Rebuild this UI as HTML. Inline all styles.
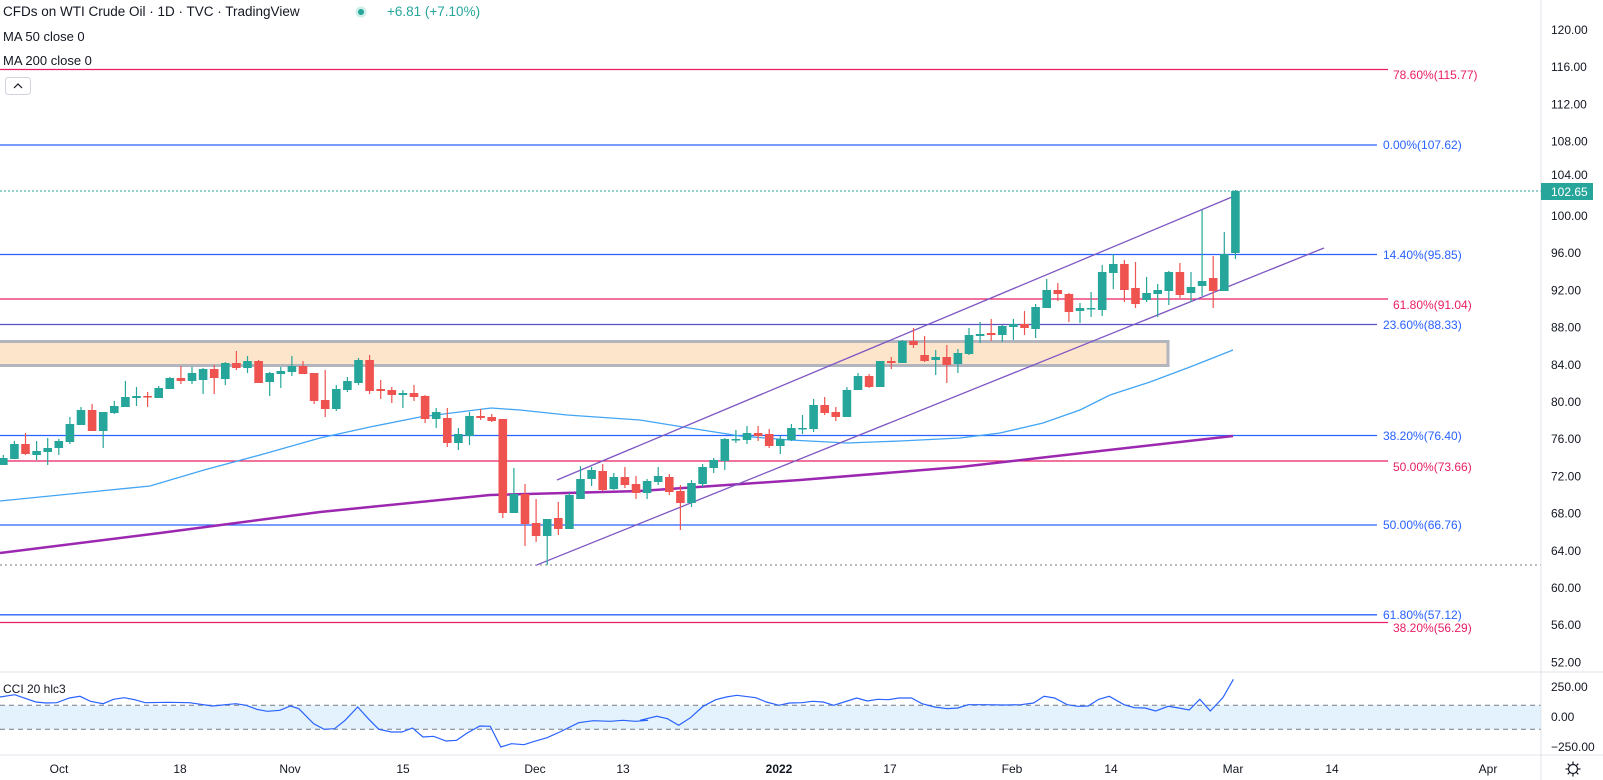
<!DOCTYPE html>
<html><head><meta charset="utf-8">
<style>
html,body{margin:0;padding:0;background:#fff;width:1603px;height:780px;overflow:hidden;font-family:"Liberation Sans",sans-serif}
svg{position:absolute;left:0;top:0}
</style></head><body>
<svg id="s" width="1603" height="780" viewBox="0 0 1603 780" xmlns="http://www.w3.org/2000/svg" font-family="Liberation Sans, sans-serif">
<rect width="1603" height="780" fill="#fff"/>
<!-- orange zone -->
<rect x="-5" y="341.5" width="1173" height="24" fill="#fde5cc" stroke="#b2b5be" stroke-width="3"/>
<!-- horizontal fib lines -->
<g stroke-width="1.3">
<line x1="0" y1="69.5" x2="1388" y2="69.5" stroke="#e91e63"/>
<line x1="0" y1="145" x2="1377" y2="145" stroke="#2962ff"/>
<line x1="0" y1="254.5" x2="1377" y2="254.5" stroke="#2962ff"/>
<line x1="0" y1="299" x2="1388" y2="299" stroke="#e91e63"/>
<line x1="0" y1="324.5" x2="1377" y2="324.5" stroke="#5b4fc7"/>
<line x1="0" y1="435.5" x2="1377" y2="435.5" stroke="#2962ff"/>
<line x1="0" y1="461" x2="1388" y2="461" stroke="#e91e63"/>
<line x1="0" y1="525" x2="1377" y2="525" stroke="#2962ff"/>
<line x1="0" y1="614.8" x2="1377" y2="614.8" stroke="#2962ff"/>
<line x1="0" y1="622.5" x2="1388" y2="622.5" stroke="#e91e63"/>
</g>
<line x1="0" y1="191" x2="1541" y2="191" stroke="#26a69a" stroke-dasharray="2,2"/>
<line x1="0" y1="565" x2="1541" y2="565" stroke="#787b86" stroke-dasharray="2,3"/>
<g font-size="12">
<text x="1393" y="79" fill="#e91e63">78.60%(115.77)</text>
<text x="1383" y="149" fill="#2962ff">0.00%(107.62)</text>
<text x="1383" y="259" fill="#2962ff">14.40%(95.85)</text>
<text x="1393" y="309" fill="#e91e63">61.80%(91.04)</text>
<text x="1383" y="329" fill="#2962ff">23.60%(88.33)</text>
<text x="1383" y="440" fill="#2962ff">38.20%(76.40)</text>
<text x="1393" y="471" fill="#e91e63">50.00%(73.66)</text>
<text x="1383" y="529" fill="#2962ff">50.00%(66.76)</text>
<text x="1383" y="619" fill="#2962ff">61.80%(57.12)</text>
<text x="1393" y="632" fill="#e91e63">38.20%(56.29)</text>
</g>
<!-- MAs -->
<polyline fill="none" stroke="#42a5f5" stroke-width="1.3" points="0,501 100,491 150,486 204,470 260,455 320,438 370,427 420,417 491,408 520,410 567,415 640,420 683,427 740,436 790,440 847,443 900,441 960,438 1000,433 1043,423 1080,410 1110,395 1150,382 1190,367 1233,350"/>
<polyline fill="none" stroke="#9c27b0" stroke-width="2.5" points="0,553 160,533 320,512 490,495 640,491 800,480 960,467 1100,451 1233,436"/>
<!-- channel -->
<line x1="557" y1="480" x2="1232" y2="197" stroke="#7e57c2" stroke-width="1.3"/>
<line x1="536" y1="565.3" x2="1324" y2="248" stroke="#7e57c2" stroke-width="1.3"/>
<g id="candles"></g>
<!-- CCI pane -->
<line x1="0" y1="672" x2="1603" y2="672" stroke="#e0e3eb"/>
<rect x="0" y="705.3" width="1541" height="24" fill="#e3f2fd"/>
<line x1="0" y1="705.3" x2="1541" y2="705.3" stroke="#787b86" stroke-dasharray="5,4"/>
<line x1="0" y1="729.3" x2="1541" y2="729.3" stroke="#787b86" stroke-dasharray="5,4"/>
<polyline id="cci" fill="none" stroke="#2962ff" stroke-width="1.2" points=""/>
<text x="3" y="693" font-size="12" fill="#131722">CCI 20 hlc3</text>
<!-- axes -->
<line x1="1541" y1="0" x2="1541" y2="780" stroke="#e0e3eb"/>
<line x1="0" y1="755" x2="1603" y2="755" stroke="#e0e3eb"/>
<g id="paxis" font-size="12" fill="#131722"></g>
<rect x="1541" y="183" width="52" height="17" fill="#26a69a"/>
<text x="1551" y="196" font-size="12" fill="#fff">102.65</text>
<g font-size="12" fill="#131722">
<text x="1551" y="691">250.00</text>
<text x="1551" y="721">0.00</text>
<text x="1551" y="751">−250.00</text>
</g>
<g font-size="12" fill="#131722" text-anchor="middle">
<text x="59" y="773">Oct</text>
<text x="180" y="773">18</text>
<text x="290" y="773">Nov</text>
<text x="403" y="773">15</text>
<text x="535" y="773">Dec</text>
<text x="623" y="773">13</text>
<text x="779" y="773" font-weight="bold">2022</text>
<text x="890" y="773">17</text>
<text x="1012" y="773">Feb</text>
<text x="1111" y="773">14</text>
<text x="1233" y="773">Mar</text>
<text x="1332" y="773">14</text>
<text x="1488" y="773">Apr</text>
</g>
<g transform="translate(1573,769)" stroke="#131722" stroke-width="1.2" fill="none">
<circle r="4.5"/>
<line x1="0" y1="-7.5" x2="0" y2="-5"/><line x1="0" y1="7.5" x2="0" y2="5"/>
<line x1="-7.5" y1="0" x2="-5" y2="0"/><line x1="7.5" y1="0" x2="5" y2="0"/>
<line x1="-5.3" y1="-5.3" x2="-3.5" y2="-3.5"/><line x1="5.3" y1="5.3" x2="3.5" y2="3.5"/>
<line x1="-5.3" y1="5.3" x2="-3.5" y2="3.5"/><line x1="5.3" y1="-5.3" x2="3.5" y2="-3.5"/>
</g>
<!-- header -->
<text x="3" y="16" font-size="13.5" fill="#131722">CFDs on WTI Crude Oil · 1D · TVC · TradingView</text>
<circle cx="361" cy="12" r="5.5" fill="#cdeee9"/>
<circle cx="361" cy="12" r="3" fill="#26a69a"/>
<text x="387" y="16" font-size="13.5" fill="#26a69a">+6.81 (+7.10%)</text>
<text x="3" y="41" font-size="13" fill="#131722">MA 50 close 0</text>
<text x="3" y="65" font-size="13" fill="#131722">MA 200 close 0</text>
<rect x="5.5" y="77.5" width="25" height="17" rx="3" fill="#fff" stroke="#d1d4dc"/>
<polyline points="14,88 18,84 22,88" fill="none" stroke="#131722" stroke-width="1.2"/>
</svg>
<script>
var C=[
["g",458,465,455,465],["g",444,459,441,459],["r",444,454,433,455],["g",451,455,441,460],["g",448,452,438,465],
["g",441,448,439,455],["g",424,442,417,444],["g",410,425,407,425],["r",410,431,404,431],["g",412,431,412,448],
["g",406,413,401,414],["g",397,407,381,407],["g",396,398,387,406],["r",396,397,392,407],["g",388,398,386,398],
["g",378,389,377,389],["r",378,381,366,384],["g",373,381,367,384],["g",369,380,368,394],["r",369,378,365,394],
["g",363,379,362,385],["r",363,368,351,370],["g",361,368,356,373],["r",361,383,360,383],["g",373,382,372,396],
["g",371,374,367,388],["g",366,372,356,376],["r",366,374,361,374],["r",373,401,373,404],["r",400,409,370,417],
["g",389,409,385,411],["g",381,390,377,392],["g",360,383,358,385],["r",360,391,355,394],["r",389,391,380,399],
["r",390,395,387,403],["g",393,395,390,408],["r",393,397,385,401],["r",396,419,395,423],["g",412,419,408,428],
["r",418,443,408,447],["g",434,443,428,450],["g",416,436,412,445],["r",416,418,409,420],["r",417,421,414,422],
["r",419,513,419,518],["g",494,513,468,513],["r",494,524,484,546],["r",523,536,499,542],["g",519,536,519,565],
["r",518,529,502,535],["g",495,529,493,529],["g",479,499,466,499],["g",470,479,467,486],["r",471,490,464,491],
["g",477,489,473,490],["r",477,485,467,488],["r",484,493,476,499],["g",481,493,479,499],["g",476,482,467,485],
["r",477,492,474,495],["r",491,503,485,530],["g",483,503,480,507],["g",467,484,464,487],["g",460,468,458,473],
["g",439,461,438,470],["g",439,440,430,443],["g",433,440,426,444],["r",433,436,426,441],["r",434,446,429,448],
["g",439,446,436,454],["g",428,440,424,441],["g",428,429,415,434],["g",405,429,399,432],["r",405,413,397,415],
["r",412,417,407,421],["g",390,417,387,417],["g",376,390,373,390],["r",376,387,374,388],["g",361,387,361,387],
["r",361,363,357,369],["g",341,363,340,363],["r",341,345,328,348],["r",355,361,336,362],["g",357,360,350,375],
["r",357,365,345,383],["g",353,364,349,373],["g",335,354,328,355],["g",334,336,322,343],["r",333,335,319,341],
["g",326,335,325,342],["g",324,327,319,340],["r",324,328,311,335],["g",307,329,304,338],["g",290,308,279,308],
["r",290,294,283,301],["r",294,312,293,322],["g",308,311,303,323],["g",308,309,292,317],["g",272,310,265,316],
["g",264,273,254,289],["r",264,290,260,302],["r",288,304,262,308],["g",293,300,277,302],["g",290,294,284,317],
["g",272,291,271,305],["r",272,295,263,298],["g",287,293,272,302],["g",281,286,210,296],["r",278,291,256,308],
["g",254,291,232,291],["g",191,253,190,259]];
var h="";
for(var i=0;i<C.length;i++){var c=C[i],x=3.3+11.1*i,col=c[0]=="g"?"#26a69a":"#ef5350";
var bh=Math.max(c[2]-c[1],1.5);
h+='<line x1="'+x+'" y1="'+c[3]+'" x2="'+x+'" y2="'+c[4]+'" stroke="'+col+'" stroke-width="1.2"/>';
h+='<rect x="'+(x-4.3)+'" y="'+c[1]+'" width="8.6" height="'+bh+'" fill="'+col+'"/>';}
document.getElementById("candles").innerHTML=h;
var p="";
for(var v=120;v>=52;v-=4){var y=30+(120-v)*9.3+4;if(v==104)y-=4;p+='<text x="1551" y="'+y+'">'+v.toFixed(2)+'</text>';}
document.getElementById("paxis").innerHTML=p;
var a=[[0,75],[35,68],[85,90],[110,93],[135,92],[165,78],[190,73],[215,88],[245,95],[270,82],[295,77],[320,83],[345,92],[400,91],[450,92],[505,102],[560,95],[585,100],[610,112],[635,118],[665,115],[690,102],[710,110],[745,155],[770,172],[795,170],[820,145],[850,105],[875,140],[900,172],[930,180],[955,180],[980,168],[1005,195],[1030,193],[1060,207],[1085,205],[1110,183],[1140,162],[1165,163],[1190,225],[1215,215],[1245,218],[1270,208],[1300,197],[1330,180],[1375,152],[1410,146],[1450,148],[1480,145],[1510,148],[1540,145]];
var b=[[0,145],[40,133],[65,140],[92,160],[120,137],[150,103],[180,83],[205,75],[230,70],[275,77],[300,90],[330,100],[355,93],[385,92],[410,88],[435,90],[460,100],[485,90],[515,78],[540,87],[565,82],[590,83],[615,78],[645,78],[670,95],[700,105],[730,110],[755,108],[780,98],[820,98],[870,99],[905,98],[935,93],[960,73],[985,78],[1015,98],[1040,103],[1065,102],[1090,82],[1115,73],[1150,98],[1175,107],[1200,108],[1225,117],[1255,103],[1280,108],[1305,114],[1330,82],[1355,117],[1385,77],[1410,22]];
var pts=[];
a.forEach(function(q){pts.push((q[0]/2.376).toFixed(1)+","+(672+q[1]/3).toFixed(1));});
b.forEach(function(q){pts.push((640+q[0]/2.376).toFixed(1)+","+(672+q[1]/3).toFixed(1));});
document.getElementById("cci").setAttribute("points",pts.join(" "));
</script>
</body></html>
